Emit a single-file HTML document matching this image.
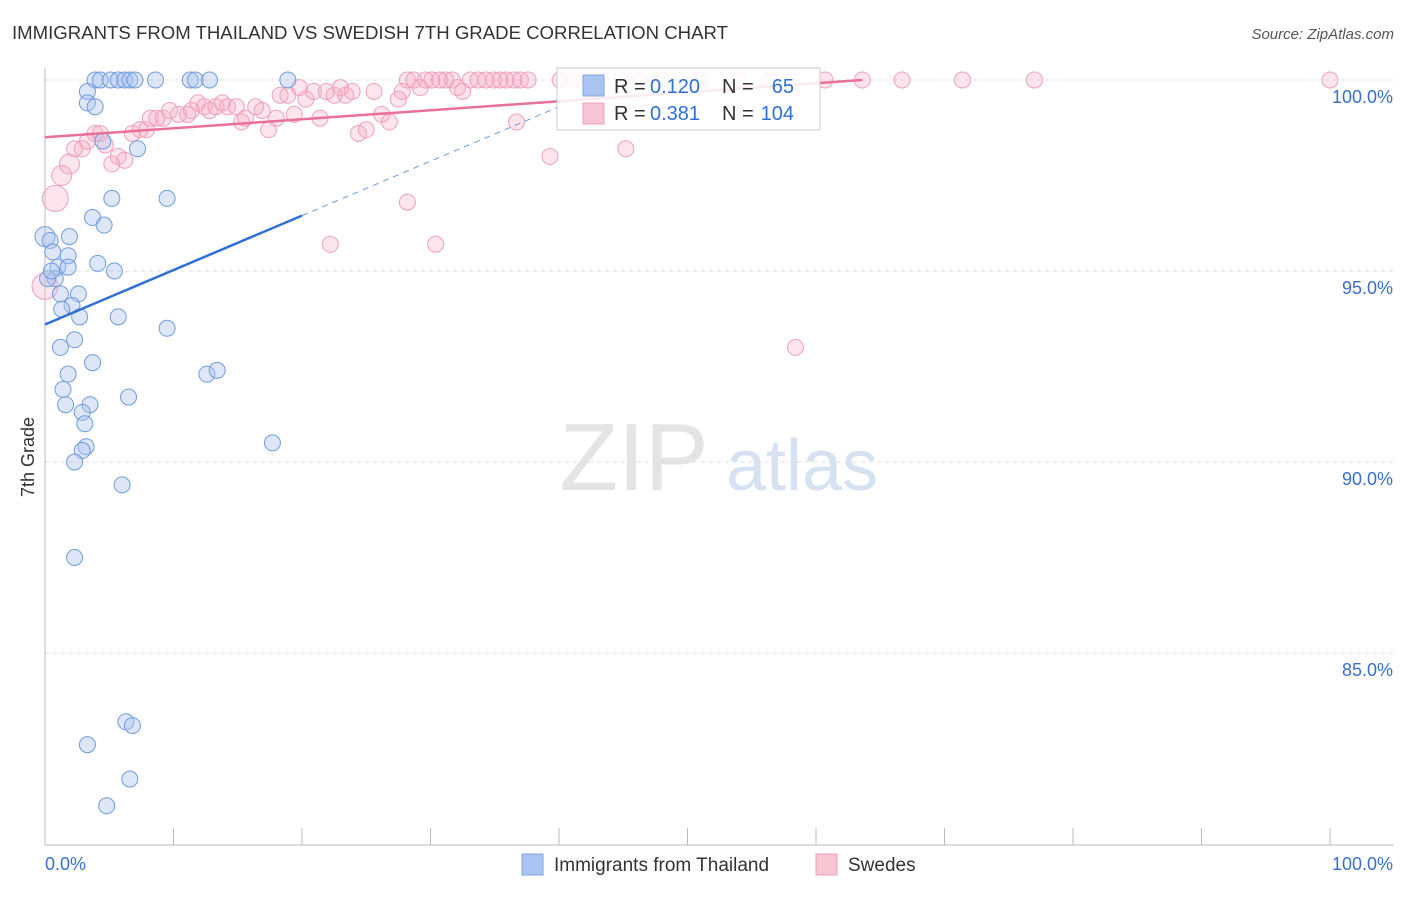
<!DOCTYPE html>
<html><head><meta charset="utf-8"><style>
body{margin:0;background:#fff;font-family:"Liberation Sans",sans-serif;}
svg text{font-family:"Liberation Sans",sans-serif;}
</style></head><body>
<svg id="c" width="1406" height="892">
<text x="12" y="39" font-size="18.6" fill="#333">IMMIGRANTS FROM THAILAND VS SWEDISH 7TH GRADE CORRELATION CHART</text>
<text x="1394" y="39" font-size="15" fill="#555" font-style="italic" text-anchor="end">Source: ZipAtlas.com</text>
<text x="34" y="457" font-size="18" fill="#333" transform="rotate(-90 34 457)" text-anchor="middle">7th Grade</text>
<g><text x="634" y="490" font-size="96" fill="#e4e4e4" font-family="Liberation Serif" text-anchor="middle">ZIP</text><text x="802" y="490" font-size="72" fill="#d6e2f2" text-anchor="middle">atlas</text></g>
<g id="grid"></g><g id="pts"></g><g id="trend"></g>
<g>
<rect x="557" y="68" width="263" height="62" fill="#fff" fill-opacity="0.85" stroke="#ccc"/>
<rect x="583" y="75" width="21" height="21" fill="#a9c4f0" stroke="#7fa5e0"/>
<rect x="583" y="103" width="21" height="21" fill="#f8c5d4" stroke="#f0a0b8"/>
<text x="614" y="93" font-size="20" fill="#333">R = </text><text x="650" y="93" font-size="20" fill="#2f6fd6">0.120</text><text x="722" y="93" font-size="20" fill="#333">N = </text><text x="794" y="93" font-size="20" fill="#2f6fd6" text-anchor="end">65</text>
<text x="614" y="120" font-size="20" fill="#333">R = </text><text x="650" y="120" font-size="20" fill="#2f6fd6">0.381</text><text x="722" y="120" font-size="20" fill="#333">N = </text><text x="794" y="120" font-size="20" fill="#2f6fd6" text-anchor="end">104</text>
</g>
<g>
<rect x="522" y="854" width="21" height="21" fill="#a9c4f0" stroke="#7fa5e0"/>
<text x="554" y="871" font-size="19" fill="#333">Immigrants from Thailand</text>
<rect x="816" y="854" width="21" height="21" fill="#f8c5d4" stroke="#f0a0b8"/>
<text x="848" y="871" font-size="19" fill="#333">Swedes</text>
</g>
</svg>
<script>
const yTicks=[100,95,90,85];
const xTickLabels=["0.0%","100.0%"];
const blueX=[3.9,4.3,5.1,5.7,6.2,6.6,7.0,8.6,11.3,11.7,12.8,18.9,3.3,3.3,3.9,4.5,7.2,5.2,9.5,3.7,4.6,0,0.4,1.9,0.6,1.8,4.1,5.4,1.0,1.8,0.8,1.2,2.6,2.1,1.3,2.7,5.7,9.5,1.2,2.3,3.7,1.8,12.6,13.4,1.4,1.6,3.5,6.5,2.9,3.1,3.2,2.9,2.3,17.7,6.0,2.3,6.3,6.8,3.3,6.6,4.8,0.2,0.5];
const blueY=[100,100,100,100,100,100,100,100,100,100,100,100,99.7,99.4,99.3,98.4,98.2,96.9,96.9,96.4,96.2,95.9,95.8,95.9,95.5,95.4,95.2,95.0,95.1,95.1,94.8,94.4,94.4,94.1,94.0,93.8,93.8,93.5,93.0,93.2,92.6,92.3,92.3,92.4,91.9,91.5,91.5,91.7,91.3,91.0,90.4,90.3,90.0,90.5,89.4,87.5,83.2,83.1,82.6,81.7,81.0,94.8,95.0];
const pinkX=[0,0.8,1.3,1.9,2.3,2.9,3.3,3.9,4.3,4.7,5.2,5.7,6.2,6.8,7.4,7.9,8.2,8.7,9.2,9.7,10.4,11.1,11.4,11.9,12.4,12.8,13.3,13.8,14.2,14.9,15.3,15.6,16.4,16.9,17.4,18.0,18.3,18.9,19.4,19.8,20.3,20.9,21.4,21.9,22.5,23.0,23.4,23.9,24.4,25.0,25.6,26.2,26.8,27.5,27.8,28.2,28.7,29.2,29.6,30.1,30.7,31.2,31.7,32.1,32.5,33.1,33.7,34.3,34.9,35.4,35.9,36.5,37.0,37.6,28.2,30.4,22.2,36.7,39.3,45.2,58.4,40.1,41.2,43.2,46.3,47.9,51.0,54.1,56.4,60.7,63.6,66.7,71.4,77.0,100];
const pinkY=[94.6,96.9,97.5,97.8,98.2,98.2,98.4,98.6,98.6,98.3,97.8,98.0,97.9,98.6,98.7,98.7,99.0,99.0,99.0,99.2,99.1,99.1,99.2,99.4,99.3,99.2,99.3,99.4,99.3,99.3,98.9,99.0,99.3,99.2,98.7,99.0,99.6,99.6,99.1,99.8,99.5,99.7,99.0,99.7,99.6,99.8,99.6,99.7,98.6,98.7,99.7,99.1,98.9,99.5,99.7,100,100,99.8,100,100,100,100,100,99.8,99.7,100,100,100,100,100,100,100,100,100,96.8,95.7,95.7,98.9,98.0,98.2,93.0,100,100,100,100,100,100,100,100,100,100,100,100,100,100];
const blueTrend=[[0,93.6],[20,96.45]];
const blueDash=[[20,96.45],[40,99.3]];
const pinkTrend=[[0,98.5],[63.6,100]];
const sx=v=>45+v*12.85, sy=v=>80+(100-v)*38.2;
const NS="http://www.w3.org/2000/svg";
function mk(p,t,a){const e=document.createElementNS(NS,t);for(const k in a)e.setAttribute(k,a[k]);p.appendChild(e);return e;}
const grid=document.getElementById('grid');
yTicks.forEach(t=>{
 const l=mk(grid,'line',{x1:45,x2:1394,y1:sy(t),y2:sy(t),stroke:'#ddd','stroke-dasharray':'4,4'});
 
 
 const tx=mk(grid,'text',{x:1393,y:sy(t)+23,'font-size':18,fill:'#3a6fd0','text-anchor':'end'});
 tx.textContent=t.toFixed(1)+'%';
 
 
});
mk(grid,'line',{x1:45,x2:45,y1:68,y2:845,stroke:'#bbb'});
mk(grid,'line',{x1:45,x2:1394,y1:845,y2:845,stroke:'#bbb'});
for(let i=0;i<=10;i++){mk(grid,'line',{x1:sx(i*10),x2:sx(i*10),y1:828,y2:845,stroke:'#bbb'});}
[[0,'start',45],[1,'end',1393]].forEach(([i,a,x])=>{const t=mk(grid,'text',{x:x,y:870,'font-size':18,fill:'#3a6fd0','text-anchor':a});t.textContent=xTickLabels[i];
 
 });
const pts=document.getElementById('pts');
pinkX.forEach((x,i)=>{const r=i<2?13:(i<4?10:8);const c=mk(pts,'circle',{cx:sx(x),cy:sy(pinkY[i]),r:r,fill:'#f6a8c0','fill-opacity':0.3,stroke:'#f0a0b8','stroke-width':1});
 
 });
blueX.forEach((x,i)=>{const c=mk(pts,'circle',{cx:sx(x),cy:sy(blueY[i]),r:(i==21?10:8),fill:'#a9c4f0','fill-opacity':0.4,stroke:'#6f9be0','stroke-width':1});
 
 });
const tr=document.getElementById('trend');
const b=mk(tr,'line',{x1:sx(blueTrend[0][0]),y1:sy(blueTrend[0][1]),x2:sx(blueTrend[1][0]),y2:sy(blueTrend[1][1]),stroke:'#2f6fd6','stroke-width':2.5});


const bd=mk(tr,'line',{x1:sx(blueDash[0][0]),y1:sy(blueDash[0][1]),x2:sx(blueDash[1][0]),y2:sy(blueDash[1][1]),stroke:'#6f9be0','stroke-width':1,'stroke-dasharray':'6,5'});


const p=mk(tr,'line',{x1:sx(pinkTrend[0][0]),y1:sy(pinkTrend[0][1]),x2:sx(pinkTrend[1][0]),y2:sy(pinkTrend[1][1]),stroke:'#e8709a','stroke-width':2.5});


</script>
</body></html>
